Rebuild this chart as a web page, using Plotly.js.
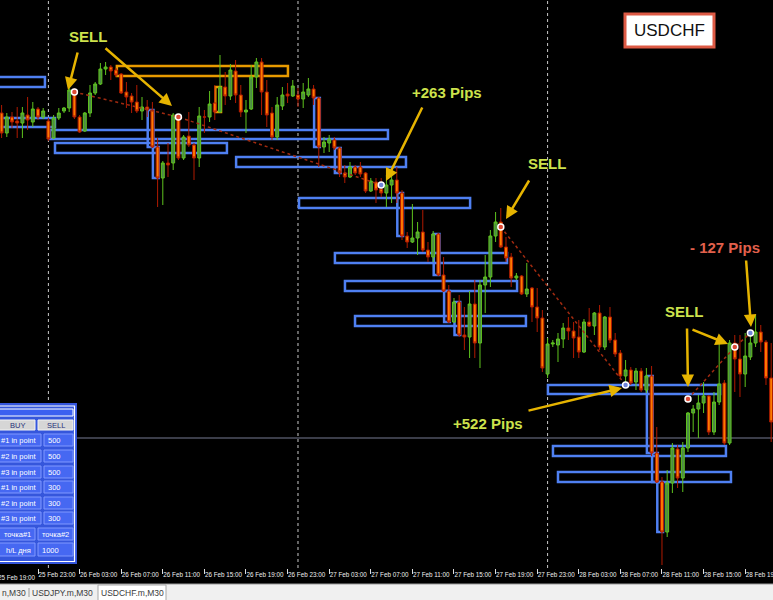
<!DOCTYPE html>
<html><head><meta charset="utf-8">
<script src="https://cdn.plot.ly/plotly-3.0.1.min.js"></script>
<style>html,body{margin:0;padding:0;background:#000;overflow:hidden}#chart{width:773px;height:600px}</style>
</head><body><div id="chart"></div>
<script>
// ---- data (USDCHF M30) ----
const symbolName = 'USDCHF';
const firstBarUTC = Date.UTC(2019, 1, 25, 19, 30);
const barMinutes = 30;
const openP = [
0.9887,0.9867,0.9883,0.9879,0.9877,0.9885,0.9878,0.9891,0.9883,0.9879,
0.9862,0.9882,0.9889,0.9892,0.9908,0.9883,0.9869,0.9887,0.9907,0.9916,
0.9931,0.9933,0.9930,0.9926,0.9908,0.9904,0.9898,0.9889,0.9893,0.9890,
0.9853,0.9822,0.9837,0.9837,0.9882,0.9842,0.9864,0.9855,0.9842,0.9883,
0.9883,0.9897,0.9888,0.9913,0.9904,0.9929,0.9905,0.9888,0.9891,0.9923,
0.9938,0.9908,0.9887,0.9863,0.9894,0.9906,0.9904,0.9905,0.9901,0.9905,
0.9911,0.9902,0.9853,0.9857,0.9860,0.9852,0.9827,0.9823,0.9833,0.9833,
0.9827,0.9809,0.9818,0.9811,0.9807,0.9815,0.9820,0.9807,0.9764,0.9758,
0.9762,0.9768,0.9750,0.9743,0.9766,0.9725,0.9709,0.9678,0.9698,0.9665,
0.9663,0.9696,0.9657,0.9715,0.9723,0.9764,0.9778,0.9753,0.9743,0.9722,
0.9724,0.9706,0.9712,0.9693,0.9682,0.9626,0.9656,0.9655,0.9661,0.9672,
0.9669,0.9663,0.9648,0.9678,0.9674,0.9687,0.9653,0.9683,0.9660,0.9647,
0.9624,0.9630,0.9618,0.9629,0.9610,0.9624,0.9547,0.9518,0.9468,0.9517,
0.9551,0.9522,0.9552,0.9587,0.9591,0.9597,0.9604,0.9568,0.9598,0.9617,
0.9557,0.9657,0.9641,0.9626,0.9643,0.9657,0.9668,0.9658,0.9622];
const highP = [
0.9895,0.9887,0.9888,0.9893,0.9893,0.9903,0.9898,0.9893,0.9892,0.9882,
0.9885,0.9892,0.9893,0.9915,0.9912,0.9885,0.9888,0.9915,0.9918,0.9937,
0.9938,0.9935,0.9932,0.9927,0.9918,0.9907,0.9915,0.9903,0.9900,0.9898,
0.9862,0.9839,0.9857,0.9887,0.9885,0.9865,0.9888,0.9857,0.9893,0.9890,
0.9909,0.9915,0.9945,0.9928,0.9936,0.9940,0.9915,0.9900,0.9935,0.9942,
0.9942,0.9920,0.9893,0.9903,0.9913,0.9917,0.9920,0.9912,0.9917,0.9922,
0.9915,0.9903,0.9863,0.9865,0.9863,0.9853,0.9835,0.9838,0.9835,0.9838,
0.9828,0.9822,0.9822,0.9822,0.9825,0.9827,0.9833,0.9810,0.9768,0.9796,
0.9778,0.9790,0.9758,0.9769,0.9767,0.9743,0.9715,0.9702,0.9705,0.9693,
0.9709,0.9720,0.9720,0.9745,0.9770,0.9788,0.9792,0.9763,0.9747,0.9727,
0.9725,0.9737,0.9713,0.9712,0.9690,0.9662,0.9660,0.9667,0.9677,0.9683,
0.9678,0.9680,0.9681,0.9692,0.9688,0.9695,0.9684,0.9693,0.9667,0.9650,
0.9640,0.9633,0.9632,0.9632,0.9632,0.9634,0.9573,0.9523,0.9530,0.9557,
0.9555,0.9558,0.9588,0.9595,0.9605,0.9618,0.9605,0.9608,0.9660,0.9620,
0.9660,0.9665,0.9665,0.9667,0.9668,0.9685,0.9675,0.9660,0.9657];
const lowP = [
0.9862,0.9863,0.9872,0.9862,0.9862,0.9870,0.9873,0.9880,0.9881,0.9859,
0.9861,0.9880,0.9887,0.9888,0.9881,0.9867,0.9868,0.9883,0.9905,0.9915,
0.9925,0.9920,0.9923,0.9906,0.9892,0.9887,0.9887,0.9880,0.9883,0.9852,
0.9793,0.9795,0.9823,0.9830,0.9840,0.9840,0.9853,0.9820,0.9833,0.9867,
0.9878,0.9880,0.9887,0.9895,0.9900,0.9897,0.9883,0.9867,0.9890,0.9912,
0.9885,0.9873,0.9860,0.9860,0.9890,0.9897,0.9903,0.9893,0.9892,0.9903,
0.9895,0.9833,0.9847,0.9848,0.9850,0.9823,0.9817,0.9822,0.9825,0.9823,
0.9807,0.9808,0.9797,0.9803,0.9793,0.9797,0.9797,0.9760,0.9752,0.9757,
0.9745,0.9748,0.9738,0.9738,0.9724,0.9708,0.9677,0.9677,0.9663,0.9650,
0.9642,0.9642,0.9632,0.9687,0.9713,0.9758,0.9752,0.9738,0.9713,0.9720,
0.9705,0.9703,0.9678,0.9668,0.9628,0.9622,0.9653,0.9638,0.9652,0.9660,
0.9642,0.9642,0.9647,0.9673,0.9665,0.9650,0.9650,0.9657,0.9643,0.9622,
0.9618,0.9615,0.9610,0.9608,0.9607,0.9544,0.9517,0.9435,0.9463,0.9507,
0.9512,0.9508,0.9548,0.9568,0.9562,0.9587,0.9565,0.9565,0.9595,0.9555,
0.9555,0.9608,0.9603,0.9613,0.9640,0.9653,0.9648,0.9615,0.9558];
const closeP = [
0.9867,0.9883,0.9878,0.9877,0.9887,0.9880,0.9891,0.9883,0.9889,0.9861,
0.9882,0.9887,0.9892,0.9910,0.9883,0.9868,0.9887,0.9907,0.9916,0.9931,
0.9933,0.9929,0.9925,0.9907,0.9903,0.9898,0.9889,0.9893,0.9890,0.9853,
0.9822,0.9837,0.9835,0.9885,0.9842,0.9863,0.9855,0.9842,0.9884,0.9883,
0.9896,0.9888,0.9913,0.9904,0.9930,0.9905,0.9888,0.9890,0.9923,0.9938,
0.9908,0.9885,0.9863,0.9895,0.9905,0.9904,0.9914,0.9901,0.9908,0.9911,
0.9902,0.9853,0.9858,0.9861,0.9852,0.9827,0.9823,0.9833,0.9827,0.9826,
0.9809,0.9819,0.9810,0.9807,0.9815,0.9820,0.9807,0.9764,0.9758,0.9762,
0.9768,0.9750,0.9743,0.9766,0.9725,0.9709,0.9678,0.9698,0.9665,0.9663,
0.9696,0.9657,0.9715,0.9723,0.9764,0.9778,0.9753,0.9742,0.9722,0.9724,
0.9706,0.9711,0.9693,0.9682,0.9632,0.9656,0.9657,0.9661,0.9672,0.9669,
0.9662,0.9648,0.9678,0.9674,0.9687,0.9653,0.9683,0.9660,0.9646,0.9624,
0.9630,0.9617,0.9629,0.9610,0.9624,0.9547,0.9518,0.9468,0.9517,0.9552,
0.9522,0.9552,0.9587,0.9591,0.9597,0.9604,0.9568,0.9598,0.9616,0.9557,
0.9657,0.9641,0.9626,0.9644,0.9657,0.9668,0.9658,0.9622,0.9578];

// supply/demand zones (blue rectangles)
const zoneStart = ['2019-02-25 19:00','2019-02-25 19:00','2019-02-26 00:09','2019-02-26 00:38','2019-02-26 18:03','2019-02-27 00:06','2019-02-27 03:33','2019-02-27 04:31','2019-02-27 05:29','2019-02-28 00:02','2019-02-28 00:31','2019-02-28 01:00'];
const zoneEnd = ['2019-02-25 23:40','2019-02-26 00:38','2019-02-27 08:39','2019-02-26 17:10','2019-02-27 10:23','2019-02-27 16:33','2019-02-27 20:06','2019-02-27 21:04','2019-02-27 21:55','2019-02-28 16:35','2019-02-28 17:09','2019-02-28 17:38'];
const zoneTop = [0.9923,0.9882,0.9870,0.9857,0.9843,0.9802,0.9747,0.9719,0.9684,0.9615,0.9554,0.9528];
const zoneBottom = [0.9913,0.9873,0.9861,0.9847,0.9833,0.9792,0.9737,0.9709,0.9674,0.9606,0.9544,0.9518];
// orange zone
const orangeZoneStart = '2019-02-26 06:35', orangeZoneEnd = '2019-02-26 23:02';
const orangeZoneTop = 0.9934, orangeZoneBottom = 0.9924;
// bars outlined by a box (bar numbers, 1 = first bar)
const blueBoxBars = [30,31,62,66,78,85,87,89,126,127,128];
const orangeBoxBars = [43];
// trades
const leg1Time = ['2019-02-26 02:30','2019-02-26 12:30','2019-02-27 08:00'];
const leg1Price = [0.9908,0.9883,0.9815];
const leg1Kind = ['sell','sell','close'];
const leg2Time = ['2019-02-27 19:30','2019-02-28 07:30'];
const leg2Price = [0.9773,0.9615];
const leg2Kind = ['sell','close'];
const leg3Time = ['2019-02-28 13:30','2019-02-28 18:00','2019-02-28 19:30'];
const leg3Price = [0.9601,0.9653,0.9667];
const leg3Kind = ['sell','sell','close'];
const bidLine = 0.9562;
const daySeparators = ['2019-02-26 00:00','2019-02-27 00:00','2019-02-28 00:00'];
const panelLabels = ['#1 in point','#2 in point','#3 in point','#1 in point','#2 in point','#3 in point'];
const panelValues = ['500','500','500','300','300','300'];
const tabs = ['n,M30','USDJPY.m,M30','USDCHF.m,M30'];

// ---- build ----
function fmt(ms){ return new Date(ms).toISOString().slice(0,19).replace('T',' '); }
const times = openP.map((_, i) => fmt(firstBarUTC + i*barMinutes*60000));
function shiftTime(t, minutes){ return fmt(Date.parse(t.replace(' ','T')+'Z') + minutes*60000); }

const W = 773, H = 568;
const X = px => px / W;
const Y = py => 1 - py / H;

const traces = [];
traces.push({
  type:'candlestick', x: times, open: openP, high: highP, low: lowP, close: closeP,
  increasing:{line:{color:'#5fc41e', width:1}, fillcolor:'#4d8a47'},
  decreasing:{line:{color:'#b01a00', width:1}, fillcolor:'#ff7b00'},
  whiskerwidth:0, hoverinfo:'skip', showlegend:false
});
const legColor = k => k === 'sell' ? '#dd4a35' : '#6f84d8';
[[leg1Time,leg1Price,leg1Kind],[leg2Time,leg2Price,leg2Kind],[leg3Time,leg3Price,leg3Kind]].forEach(([t,p,k]) => {
  traces.push({type:'scatter', mode:'lines', x:t, y:p, line:{color:'#a02a10', width:1.5, dash:'dot'}, hoverinfo:'skip', showlegend:false});
  traces.push({type:'scatter', mode:'markers', x:t, y:p, marker:{size:6, color:k.map(legColor), line:{color:'#ffffff', width:1.5}}, hoverinfo:'skip', showlegend:false});
});

const shapes = [];
daySeparators.forEach(d => shapes.push({type:'line', xref:'x', yref:'paper', x0:d, x1:d, y0:0, y1:1, line:{color:'#c8c8c8', width:1, dash:'dot'}, layer:'below'}));
shapes.push({type:'line', xref:'paper', yref:'y', x0:0, x1:1, y0:bidLine, y1:bidLine, line:{color:'#767a92', width:1}, layer:'below'});
const BLUE = '#4f80f2';
zoneStart.forEach((s,i) => shapes.push({type:'rect', xref:'x', yref:'y', x0:s, x1:zoneEnd[i], y0:zoneBottom[i], y1:zoneTop[i], line:{color:BLUE, width:2.5}, fillcolor:'rgba(0,0,0,0)', layer:'below'}));
shapes.push({type:'rect', xref:'x', yref:'y', x0:orangeZoneStart, x1:orangeZoneEnd, y0:orangeZoneBottom, y1:orangeZoneTop, line:{color:'#e89a00', width:2.5}, fillcolor:'rgba(0,0,0,0)', layer:'below'});
function barBox(n, color){
  const i = n - 1;
  return {type:'rect', xref:'x', yref:'y', x0:shiftTime(times[i], -27), x1:shiftTime(times[i], 6),
    y0:Math.min(openP[i], closeP[i]), y1:Math.max(openP[i], closeP[i]), line:{color:color, width:2.5}, fillcolor:'rgba(0,0,0,0)', layer:'below'};
}
blueBoxBars.forEach(n => shapes.push(barBox(n, BLUE)));
orangeBoxBars.forEach(n => shapes.push(barBox(n, '#e89a00')));

shapes.push({type:'rect', xref:'paper', yref:'paper', x0:X(625), x1:X(714), y0:Y(47), y1:Y(14), fillcolor:'#ffffff', line:{color:'#dd5a45', width:3}});

function prect(x0,x1,y0,y1,fill,line,lw){ shapes.push({type:'rect', xref:'paper', yref:'paper', x0:X(x0), x1:X(x1), y0:Y(y1), y1:Y(y0), fillcolor:fill, line:{color:line, width:lw}}); }
prect(-2,77,403,564,'#3556dc','#3556dc',0);
prect(-2,74.5,406,561.5,'rgba(0,0,0,0)','#ffffff',1.2);
prect(-2,73,409,416,'#3b60f0','#ffffff',1);
prect(-2,35,420,430,'#d6d6d6','#f2f2f2',1);
prect(38,73,420,430,'#d6d6d6','#f2f2f2',1);
const rowTop = [434,450,466,481,497,512];
rowTop.forEach(t => { prect(-2,41,t,t+12,'#4668f2','#8098ff',1); prect(44,73,t,t+12,'#4668f2','#8098ff',1); });
prect(-2,35,528,540,'#4668f2','#8098ff',1); prect(38,73,528,540,'#4668f2','#8098ff',1);
prect(-2,35,543,556,'#4668f2','#8098ff',1); prect(38,73,543,556,'#4668f2','#8098ff',1);

prect(-2,775,584,602,'#f0f0f0','#f0f0f0',0);
shapes.push({type:'line', xref:'paper', yref:'paper', x0:0, x1:1, y0:Y(584), y1:Y(584), line:{color:'#9a9a9a', width:1}});
shapes.push({type:'line', xref:'paper', yref:'paper', x0:X(29), x1:X(29), y0:Y(588), y1:Y(597), line:{color:'#9a9a9a', width:1}});
prect(98,166,585,601,'#ffffff','#a8a8a8',1);

const annotations = [];
function txt(px,py,text,opts){ annotations.push(Object.assign({xref:'paper', yref:'paper', x:X(px), y:Y(py), text:text, showarrow:false, xanchor:'center', yanchor:'middle'}, opts||{})); }
const LBL = {family:'Liberation Sans, Arial, sans-serif', size:15, color:'#cde24c'};
txt(88,37,'<b>SELL</b>',{font:LBL});
txt(447,92,'<b>+263 Pips</b>',{font:LBL});
txt(547,163,'<b>SELL</b>',{font:LBL});
txt(488,423,'<b>+522 Pips</b>',{font:LBL});
txt(684,311,'<b>SELL</b>',{font:LBL});
txt(725,247,'<b>- 127 Pips</b>',{font:Object.assign({}, LBL, {color:'#e2604c'})});
txt(669.5,31,symbolName,{font:{family:'Liberation Sans, Arial, sans-serif', size:17, color:'#111111'}});

function arrow(hx,hy,tx,ty){ annotations.push({xref:'paper', yref:'paper', x:X(hx), y:Y(hy), ax:tx-hx, ay:ty-hy, text:'', showarrow:true, arrowhead:2, arrowsize:1, arrowwidth:2.5, arrowcolor:'#e6b400'}); }
arrow(68,90,78,51);
arrow(172,106,104,47);
arrow(386,181,423,106);
arrow(506,219,530,179);
arrow(622,388,527,411);
arrow(688,387,687,327);
arrow(728,344,691,329);
arrow(751,327,746,259);

const PF = {family:'Liberation Sans, Arial, sans-serif', size:7.5, color:'#ffffff'};
txt(17,425.5,'BUY',{font:Object.assign({},PF,{color:'#26307a'})});
txt(55.5,425.5,'SELL',{font:Object.assign({},PF,{color:'#26307a'})});
rowTop.forEach((t,i) => { txt(39,t+6.5,panelLabels[i],{font:PF, xanchor:'right'}); txt(46,t+6.5,panelValues[i],{font:PF, xanchor:'left'}); });
txt(17,534.5,'точка#1',{font:PF}); txt(55.5,534.5,'точка#2',{font:PF});
txt(18,550,'h/L дня',{font:PF}); txt(40,550,'1000',{font:PF, xanchor:'left'});

const TF = {family:'Liberation Sans, Arial, sans-serif', size:8.5, color:'#3a3a3a'};
txt(0,592.5,tabs[0],{font:TF, xanchor:'left'});
txt(62,592.5,tabs[1],{font:TF});
txt(132,592.5,tabs[2],{font:TF});
const AXF = {family:'Liberation Sans, Arial, sans-serif', size:6.3, color:'#eeeeee'};
txt(-4,577,'25 Feb 19:00',{font:AXF, xanchor:'left'});

const layout = {
  width:773, height:600, margin:{l:0, r:0, t:0, b:32},
  paper_bgcolor:'#000000', plot_bgcolor:'#000000', showlegend:false, boxgap:0.2,
  xaxis:{type:'date', range:['2019-02-25 19:20:46','2019-02-28 21:40:30'], rangeslider:{visible:false},
    showgrid:false, zeroline:false, showline:false,
    tick0:'2019-02-25 19:00', dtick:4*3600*1000, tickformat:'%d %b %H:%M', tickangle:0,
    ticks:'outside', ticklen:5, tickcolor:'#dddddd', tickwidth:1,
    ticklabelposition:'outside right', ticklabeloverflow:'allow',
    tickfont:AXF},
  yaxis:{range:[0.9432, 1.0000], visible:false, showgrid:false, zeroline:false},
  shapes:shapes, annotations:annotations
};
Plotly.newPlot('chart', traces, layout, {staticPlot:true, displayModeBar:false});
</script></body></html>
